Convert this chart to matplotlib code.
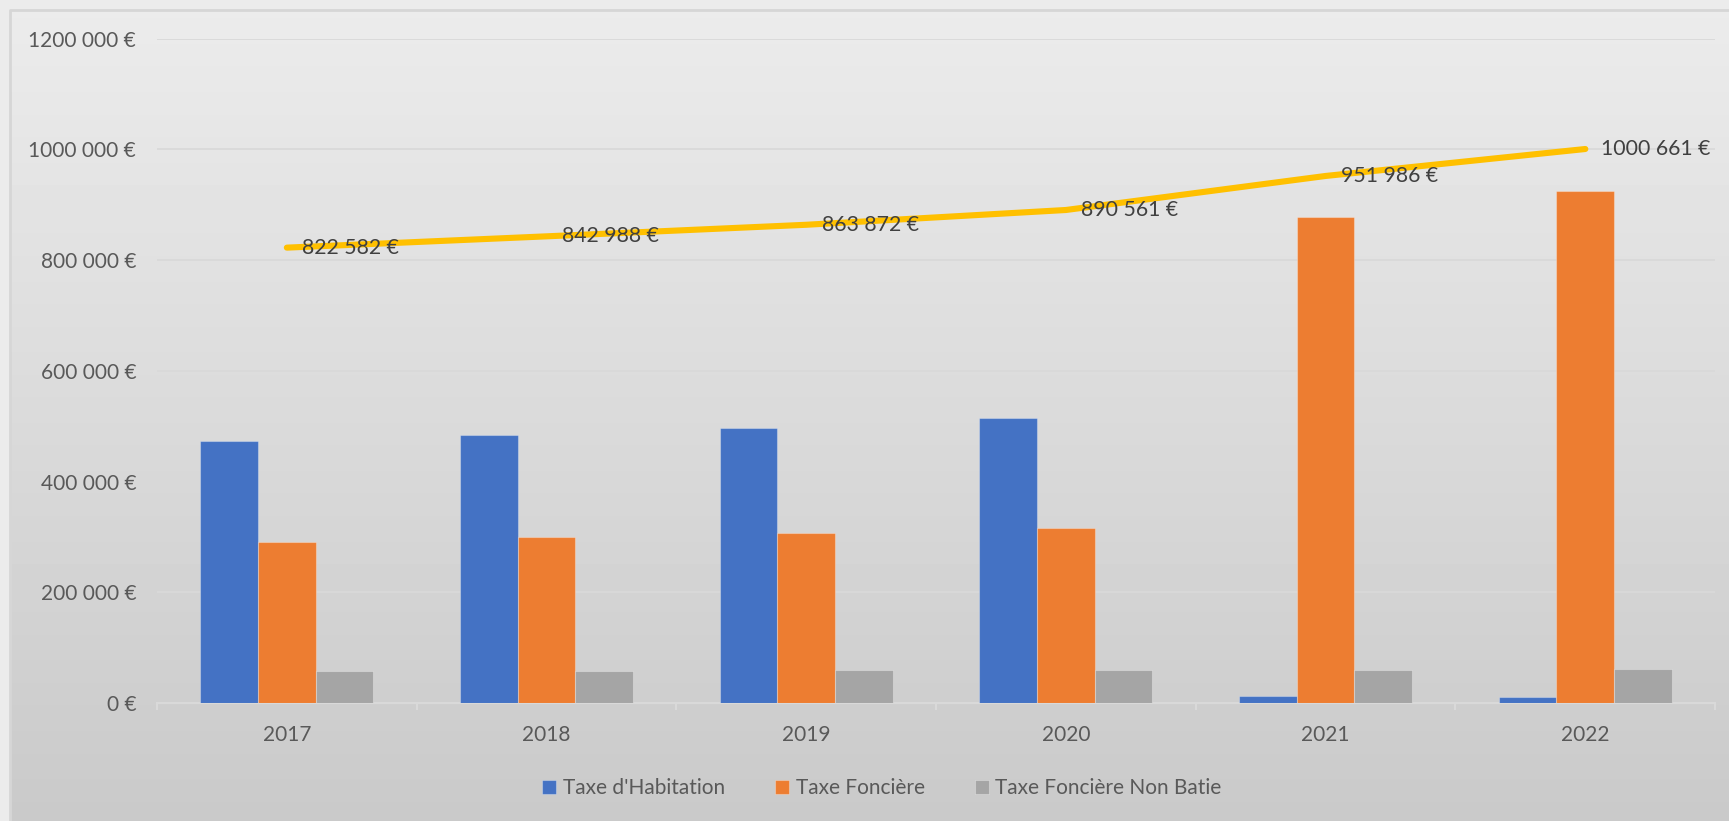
import numpy as np
import matplotlib
matplotlib.use("Agg")
import matplotlib.pyplot as plt
from matplotlib.patches import Rectangle

YEARS = ["2017", "2018", "2019", "2020", "2021", "2022"]
HABITATION = [474000, 484300, 496900, 515000, 13200, 12100]
FONCIERE = [290600, 300200, 308000, 315900, 878000, 925500]
NON_BATIE = [58300, 58300, 59600, 60700, 60800, 62600]
TOTAL = [822582, 842988, 863872, 890561, 951986, 1000661]
SERIES_NAMES = ["Taxe d'Habitation", "Taxe Foncière", "Taxe Foncière Non Batie"]
Y_TICKS = [0, 200000, 400000, 600000, 800000, 1000000, 1200000]

COLORS = ["#4472C4", "#ED7D31", "#A5A5A5"]
LINE_COLOR = "#FFC000"
GRID = "#d9d9d9"

plt.rcParams["font.family"] = ["Lato", "DejaVu Sans"]


def euro(v):
    v = int(round(v))
    if v < 1000:
        return f"{v} €"
    return f"{v // 1000} {v % 1000:03d} €"


def main():
    fig = plt.figure(figsize=(17.29, 8.21), dpi=100)

    # gradient background like the Excel chart area
    bg = fig.add_axes([0, 0, 1, 1], zorder=-10)
    grad = np.linspace(0.925, 0.79, 256).reshape(-1, 1)
    bg.imshow(grad, aspect="auto", cmap="gray", vmin=0, vmax=1,
              extent=[0, 1, 0, 1])
    bg.set_xlim(0, 1)
    bg.set_ylim(0, 1)
    bg.axis("off")
    # outer margin + border
    bg.add_patch(Rectangle((0, 0), 10 / 1729, 1, color="#ececec", zorder=2))
    bg.add_patch(Rectangle((0, 1 - 10 / 821), 1, 10 / 821, color="#ececec", zorder=2))
    bg.plot([10 / 1729, 10 / 1729, 1], [0, 1 - 10 / 821, 1 - 10 / 821],
            color="#d6d6d6", lw=2, zorder=3)

    ax = fig.add_axes([0.0908, 0.1434, 0.9012, 0.8096])
    ax.set_facecolor("none")

    x = np.arange(len(YEARS))
    w = 0.222
    for i, (vals, name) in enumerate(zip([HABITATION, FONCIERE, NON_BATIE], SERIES_NAMES)):
        ax.bar(x + (i - 1) * w, vals, width=w, color=COLORS[i], label=name,
               edgecolor=(1, 1, 1, 0.3), linewidth=0.8, zorder=3)

    ax.plot(x, TOTAL, color=LINE_COLOR, lw=4.4, solid_capstyle="round", zorder=4)
    for xi, v in zip(x, TOTAL):
        ax.annotate(euro(v), (xi, v), xytext=(11, 0), textcoords="offset points",
                    ha="left", va="center", fontsize=15.3, color="#404040", zorder=5)

    ax.set_xlim(-0.5, len(YEARS) - 0.5)
    ax.set_ylim(0, 1200000)
    ax.set_yticks(Y_TICKS)
    ax.set_yticklabels([euro(t) for t in Y_TICKS])
    ax.set_xticks(x)
    ax.set_xticklabels(YEARS)
    ax.set_xticks(np.arange(len(YEARS) + 1) - 0.5, minor=True)

    ax.tick_params(axis="y", length=0, pad=15, labelsize=15, labelcolor="#595959")
    ax.tick_params(axis="x", which="major", length=0, pad=16, labelsize=15,
                   labelcolor="#595959")
    ax.tick_params(axis="x", which="minor", length=5, width=1.5, color=GRID,
                   direction="out")

    ax.yaxis.grid(True, color=GRID, lw=1.3, zorder=0)
    ax.set_axisbelow(True)
    for s in ["top", "right", "left"]:
        ax.spines[s].set_visible(False)
    ax.spines["bottom"].set_color(GRID)
    ax.spines["bottom"].set_linewidth(1.5)
    ax.spines["bottom"].set_zorder(2)

    fig.legend(loc="center", bbox_to_anchor=(0.510, 0.040), ncol=3, frameon=False,
               fontsize=15, handlelength=0.7, handleheight=0.7, handletextpad=0.3,
               columnspacing=2.4, labelcolor="#595959")

    fig.savefig("out.png", dpi=100)


if __name__ == "__main__":
    main()
